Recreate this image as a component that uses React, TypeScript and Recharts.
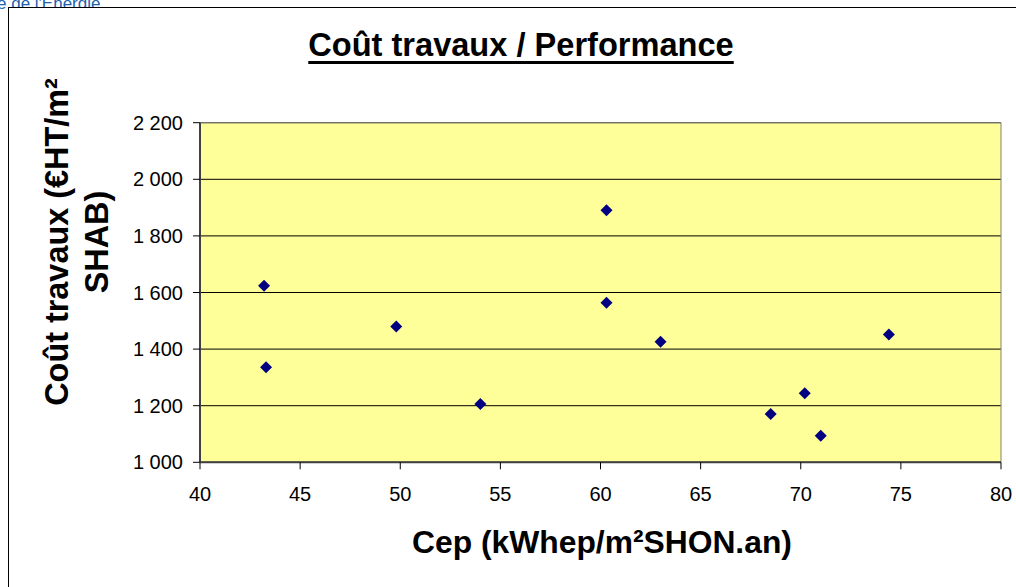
import { CartesianGrid, ReferenceArea, Scatter, ScatterChart, XAxis, YAxis } from 'recharts'

// Cep (kWhep/m²SHON.an) and coût travaux (€HT/m² SHAB) per operation
const cep = [43.2, 43.3, 49.8, 54.0, 60.3, 60.3, 63.0, 68.5, 70.2, 71.0, 74.4]
const cout = [1624, 1336, 1480, 1206, 1891, 1564, 1426, 1171, 1244, 1094, 1452]

const xTicks = [40, 45, 50, 55, 60, 65, 70, 75, 80]
const yTicks = [1000, 1200, 1400, 1600, 1800, 2000, 2200]

const points = cep.map((x, i) => ({ x, y: cout[i] }))

const font = '"Liberation Sans", Arial, sans-serif'
const fmt = (v: number) => String(v).replace(/\B(?=(\d{3})+(?!\d))/g, ' ')

const Diamond = (props: any) => {
  const { cx, cy } = props
  const r = 6
  return <polygon points={`${cx},${cy - r} ${cx + r},${cy} ${cx},${cy + r} ${cx - r},${cy}`} fill="#000080" />
}

export default function App() {
  return (
    <div style={{ position: 'absolute', left: 0, top: 0, width: 1016, height: 587, overflow: 'hidden', background: '#fff', fontFamily: font }}>
      <div style={{ position: 'absolute', left: -3, top: -6, fontSize: 17, color: '#2060b0', whiteSpace: 'nowrap' }}>e de l'Energie</div>
      <div style={{ position: 'absolute', left: 8, top: 7, width: 1100, height: 700, border: '1px solid #000', background: '#fff' }} />

      <div style={{ position: 'absolute', left: 221, top: 29, width: 600, textAlign: 'center', fontSize: 32.6, lineHeight: '32px', fontWeight: 'bold', textDecoration: 'underline', textDecorationThickness: 3, textUnderlineOffset: 5, whiteSpace: 'nowrap' }}>
        Coût travaux / Performance
      </div>

      <div style={{ position: 'absolute', left: -133, top: 202, width: 420, height: 80, transform: 'rotate(-90deg)', textAlign: 'center', fontSize: 32.4, lineHeight: '40px', fontWeight: 'bold', whiteSpace: 'nowrap' }}>
        Coût travaux (€HT/m²
        <br />
        SHAB)
      </div>

      <div style={{ position: 'absolute', left: 302, top: 527, width: 600, textAlign: 'center', fontSize: 31.8, lineHeight: '31px', fontWeight: 'bold', whiteSpace: 'nowrap' }}>
        Cep (kWhep/m²SHON.an)
      </div>

      <div style={{ position: 'absolute', left: 0, top: 0 }}>
        <ScatterChart width={1016} height={587} margin={{ top: 122.7, right: 15, bottom: 64.7, left: 0 }}>
          <CartesianGrid vertical={false} stroke="#000" fill="#ffff99" fillOpacity={1} />
          <ReferenceArea x1={40} x2={80} y1={1000} y2={2200} fill="none" stroke="#808080" strokeWidth={1} ifOverflow="visible" />
          <XAxis
            type="number"
            dataKey="x"
            domain={[40, 80]}
            ticks={xTicks}
            height={60}
            tickSize={7}
            tickMargin={17.5}
            axisLine={{ stroke: '#404040', strokeWidth: 2 }}
            tickLine={{ stroke: '#000' }}
            tick={{ fill: '#000', fontSize: 20, fontFamily: font }}
            interval={0}
          />
          <YAxis
            type="number"
            dataKey="y"
            domain={[1000, 2200]}
            ticks={yTicks}
            width={200}
            tickSize={7}
            tickMargin={10}
            tickFormatter={fmt}
            axisLine={{ stroke: '#404040', strokeWidth: 2 }}
            tickLine={{ stroke: '#000' }}
            tick={{ fill: '#000', fontSize: 20, fontFamily: font }}
            interval={0}
          />
          <Scatter data={points} shape={<Diamond />} isAnimationActive={false} />
        </ScatterChart>
      </div>
    </div>
  )
}
